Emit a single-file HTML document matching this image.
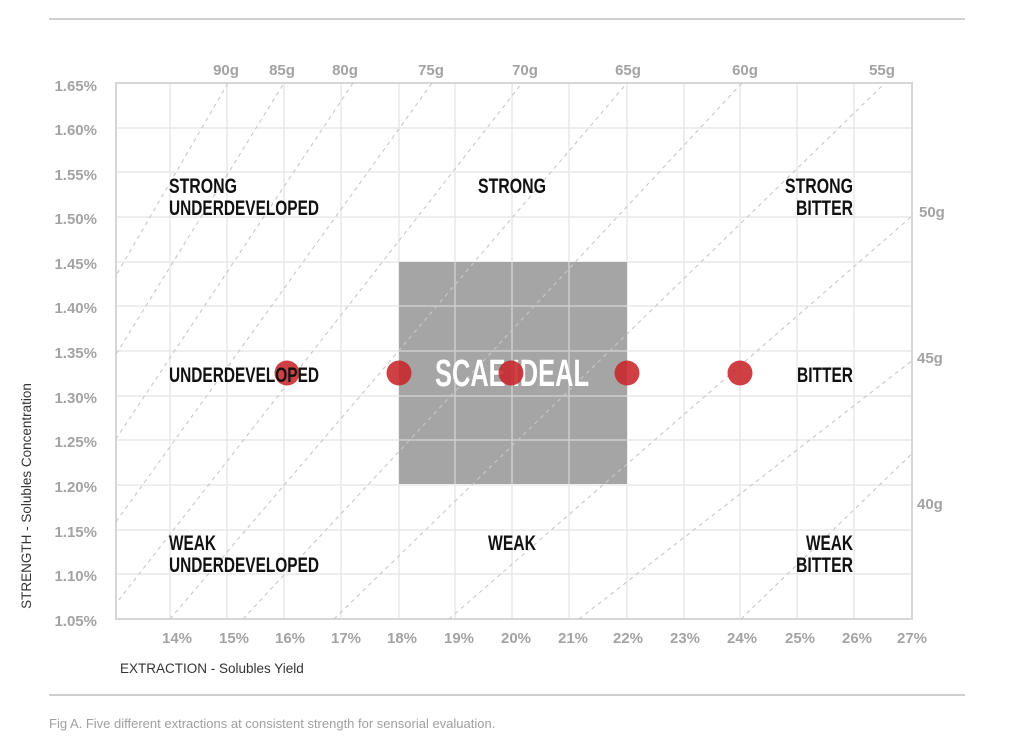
<!DOCTYPE html>
<html><head><meta charset="utf-8"><style>
html,body{margin:0;padding:0;background:#fff;}
svg{display:block;}
.t{font-family:"Liberation Sans",sans-serif;font-size:15px;font-weight:bold;fill:#a3a3a3;}
.r{font-family:"Liberation Sans Narrow","Liberation Sans",sans-serif;font-size:21px;font-weight:bold;fill:#111;}
</style></head><body>
<svg width="1024" height="744" viewBox="0 0 1024 744" xmlns="http://www.w3.org/2000/svg">
<defs><clipPath id="c"><rect x="116" y="83" width="796" height="536"/></clipPath></defs>
<line x1="49" y1="19" x2="965" y2="19" stroke="#cfcfcf" stroke-width="2"/>
<line x1="49" y1="695" x2="965" y2="695" stroke="#cfcfcf" stroke-width="2"/>
<g stroke="#e9e9e9" stroke-width="1.5">
<line x1="116" y1="128" x2="912" y2="128"/><line x1="116" y1="172" x2="912" y2="172"/>
<line x1="116" y1="217" x2="912" y2="217"/><line x1="116" y1="262" x2="912" y2="262"/>
<line x1="116" y1="306" x2="912" y2="306"/><line x1="116" y1="351" x2="912" y2="351"/>
<line x1="116" y1="396" x2="912" y2="396"/><line x1="116" y1="440" x2="912" y2="440"/>
<line x1="116" y1="485" x2="912" y2="485"/><line x1="116" y1="530" x2="912" y2="530"/>
<line x1="116" y1="574" x2="912" y2="574"/>
<line x1="170" y1="83" x2="170" y2="619"/><line x1="227" y1="83" x2="227" y2="619"/>
<line x1="284" y1="83" x2="284" y2="619"/><line x1="341" y1="83" x2="341" y2="619"/>
<line x1="399" y1="83" x2="399" y2="619"/><line x1="455" y1="83" x2="455" y2="619"/>
<line x1="512" y1="83" x2="512" y2="619"/><line x1="569" y1="83" x2="569" y2="619"/>
<line x1="627" y1="83" x2="627" y2="619"/><line x1="684" y1="83" x2="684" y2="619"/>
<line x1="740" y1="83" x2="740" y2="619"/><line x1="797" y1="83" x2="797" y2="619"/>
<line x1="854" y1="83" x2="854" y2="619"/>
</g>
<rect x="399" y="262" width="228" height="222" fill="#a5a5a6"/>
<g stroke="#cdcdcd" stroke-width="1.5">
<line x1="399" y1="306" x2="627" y2="306"/><line x1="399" y1="351" x2="627" y2="351"/>
<line x1="399" y1="396" x2="627" y2="396"/><line x1="399" y1="440" x2="627" y2="440"/>
<line x1="455" y1="262" x2="455" y2="484"/><line x1="512" y1="262" x2="512" y2="484"/>
<line x1="569" y1="262" x2="569" y2="484"/>
</g>
<rect x="116" y="83" width="796" height="536" fill="none" stroke="#d6d6d6" stroke-width="2"/>
<g clip-path="url(#c)" stroke="#c8c8c8" stroke-width="1.1" stroke-dasharray="4 4" fill="none">
<line x1="-84" y1="619" x2="228" y2="83"/>
<line x1="-48" y1="619" x2="284" y2="83"/>
<line x1="-4" y1="619" x2="353" y2="83"/>
<line x1="46" y1="619" x2="432" y2="83"/>
<line x1="104" y1="619" x2="522" y2="83"/>
<line x1="170" y1="619" x2="627" y2="83"/>
<line x1="243" y1="619" x2="742" y2="83"/>
<line x1="334" y1="619" x2="885" y2="83"/>
<line x1="449" y1="619" x2="1065" y2="83"/>
<line x1="579" y1="619" x2="1270" y2="83"/>
<line x1="741" y1="619" x2="1295" y2="83"/>
</g>
<text x="512" y="386" text-anchor="middle" font-family="Liberation Sans Narrow,Liberation Sans,sans-serif" font-size="38" font-weight="bold" fill="#fff" textLength="154" lengthAdjust="spacingAndGlyphs">SCAE IDEAL</text>
<g fill="#c8262a" fill-opacity="0.88">
<circle cx="287" cy="373" r="12.5"/><circle cx="399" cy="373" r="12.5"/>
<circle cx="511" cy="373" r="12.5"/><circle cx="627" cy="373" r="12.5"/>
<circle cx="740" cy="373" r="12.5"/>
</g>
<g class="r">
<text x="169" y="193" textLength="68" lengthAdjust="spacingAndGlyphs">STRONG</text>
<text x="169" y="215" textLength="150" lengthAdjust="spacingAndGlyphs">UNDERDEVELOPED</text>
<text x="478" y="193" textLength="68" lengthAdjust="spacingAndGlyphs">STRONG</text>
<text x="785" y="193" textLength="68" lengthAdjust="spacingAndGlyphs">STRONG</text>
<text x="796" y="215" textLength="57" lengthAdjust="spacingAndGlyphs">BITTER</text>
<text x="169" y="382" textLength="150" lengthAdjust="spacingAndGlyphs">UNDERDEVELOPED</text>
<text x="797" y="382" textLength="56" lengthAdjust="spacingAndGlyphs">BITTER</text>
<text x="169" y="550" textLength="47" lengthAdjust="spacingAndGlyphs">WEAK</text>
<text x="169" y="572" textLength="150" lengthAdjust="spacingAndGlyphs">UNDERDEVELOPED</text>
<text x="488" y="550" textLength="48" lengthAdjust="spacingAndGlyphs">WEAK</text>
<text x="806" y="550" textLength="47" lengthAdjust="spacingAndGlyphs">WEAK</text>
<text x="796" y="572" textLength="57" lengthAdjust="spacingAndGlyphs">BITTER</text>
</g>
<g class="t" text-anchor="end">
<text x="97" y="91">1.65%</text><text x="97" y="135">1.60%</text>
<text x="97" y="180">1.55%</text><text x="97" y="224">1.50%</text>
<text x="97" y="269">1.45%</text><text x="97" y="313">1.40%</text>
<text x="97" y="358">1.35%</text><text x="97" y="403">1.30%</text>
<text x="97" y="447">1.25%</text><text x="97" y="492">1.20%</text>
<text x="97" y="537">1.15%</text><text x="97" y="581">1.10%</text>
<text x="97" y="626">1.05%</text>
</g>
<g class="t" text-anchor="middle">
<text x="177" y="643">14%</text><text x="234" y="643">15%</text>
<text x="290" y="643">16%</text><text x="346" y="643">17%</text>
<text x="402" y="643">18%</text><text x="459" y="643">19%</text>
<text x="516" y="643">20%</text><text x="573" y="643">21%</text>
<text x="628" y="643">22%</text><text x="685" y="643">23%</text>
<text x="742" y="643">24%</text><text x="800" y="643">25%</text>
<text x="857" y="643">26%</text><text x="912" y="643">27%</text>
<text x="226" y="75">90g</text><text x="282" y="75">85g</text>
<text x="345" y="75">80g</text><text x="431" y="75">75g</text>
<text x="525" y="75">70g</text><text x="628" y="75">65g</text>
<text x="745" y="75">60g</text><text x="882" y="75">55g</text>
</g>
<g class="t">
<text x="919" y="217">50g</text><text x="917" y="363">45g</text><text x="917" y="509">40g</text>
</g>
<text x="120" y="673" font-family="Liberation Sans,sans-serif" font-size="13.5" fill="#333">EXTRACTION - Solubles Yield</text>
<text transform="translate(31,496) rotate(-90)" text-anchor="middle" font-family="Liberation Sans,sans-serif" font-size="13.5" fill="#333">STRENGTH - Solubles Concentration</text>
<text x="49" y="728" font-family="Liberation Sans,sans-serif" font-size="13" fill="#a0a0a0">Fig A. Five different extractions at consistent strength for sensorial evaluation.</text>
</svg>
</body></html>
